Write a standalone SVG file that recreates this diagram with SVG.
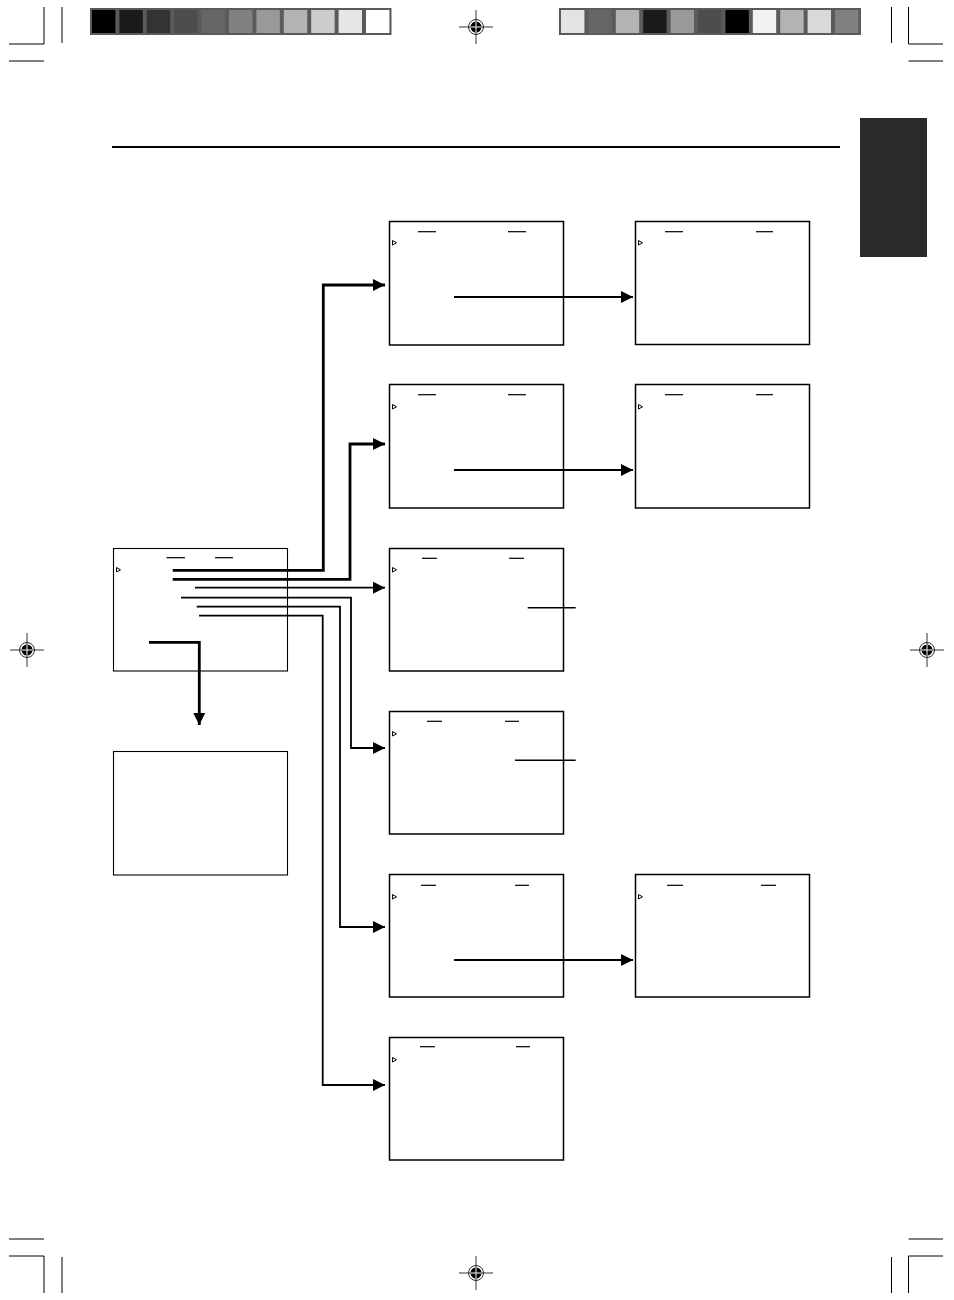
<svg xmlns="http://www.w3.org/2000/svg" width="954" height="1300" viewBox="0 0 954 1300">
<style>
.crop{stroke:#000;stroke-width:1;fill:none}
.scr{fill:#fff;stroke:#000;stroke-width:1.5}
.thin{fill:#fff;stroke:#000;stroke-width:1.1}
.dash{stroke:#000;stroke-width:1.2}
.tri{fill:#fff;stroke:#000;stroke-width:1}
.con{fill:none;stroke:#000;stroke-linejoin:miter}
.w3{stroke-width:2.8}
.w2{stroke-width:1.8}
.lbl{stroke:#000;stroke-width:1.4}
</style>
<defs>
<marker id="ah" markerUnits="userSpaceOnUse" markerWidth="13" markerHeight="13" refX="12" refY="6" orient="auto" viewBox="0 0 13 13">
<path d="M0,0 L12,6 L0,12 z" fill="#000"/>
</marker>
<g id="reg">
<line x1="-17" y1="0" x2="17" y2="0" stroke="#000" stroke-width="0.8"/>
<line x1="0" y1="-17" x2="0" y2="17" stroke="#000" stroke-width="0.8"/>
<circle r="7.5" fill="none" stroke="#000" stroke-width="0.8"/>
<circle r="5.5" fill="#000"/>
<line x1="-5.5" y1="0" x2="5.5" y2="0" stroke="#fff" stroke-width="1"/>
<line x1="0" y1="-5.5" x2="0" y2="5.5" stroke="#fff" stroke-width="1"/>
</g>
</defs>
<rect width="954" height="1300" fill="#fff"/>

<g id="print-marks">
<path class="crop" d="M44,7 V44 H9 M62,7 V43 M9,61 H44"/>
<path class="crop" d="M891.5,7 V43 M908.5,7 V44 H943 M908.5,61 H943"/>
<path class="crop" d="M44,1293 V1256 H9 M62,1293 V1257 M9,1239 H44"/>
<path class="crop" d="M891.5,1293 V1257 M908.5,1293 V1256 H943 M908.5,1239 H943"/>
<use href="#reg" x="476" y="27"/>
<use href="#reg" x="27" y="650"/>
<use href="#reg" x="927" y="650"/>
<use href="#reg" x="476" y="1273"/>
</g>

<g id="colorbar-left">
<rect x="90" y="8" width="301.5" height="27" fill="#5a5a5a"/>
<rect x="92" y="10" width="23.4" height="23" fill="#000"/>
<rect x="119.4" y="10" width="23.4" height="23" fill="#1a1a1a"/>
<rect x="146.8" y="10" width="23.4" height="23" fill="#333"/>
<rect x="174.2" y="10" width="23.4" height="23" fill="#4d4d4d"/>
<rect x="201.6" y="10" width="23.4" height="23" fill="#666"/>
<rect x="229" y="10" width="23.4" height="23" fill="#808080"/>
<rect x="256.4" y="10" width="23.4" height="23" fill="#999"/>
<rect x="283.8" y="10" width="23.4" height="23" fill="#b3b3b3"/>
<rect x="311.2" y="10" width="23.4" height="23" fill="#ccc"/>
<rect x="338.6" y="10" width="23.4" height="23" fill="#e6e6e6"/>
<rect x="366" y="10" width="23.4" height="23" fill="#fff"/>
</g>

<g id="colorbar-right">
<rect x="559" y="8" width="302" height="27" fill="#5a5a5a"/>
<rect x="561" y="10" width="23.4" height="23" fill="#e3e3e3"/>
<rect x="588.4" y="10" width="23.4" height="23" fill="#666"/>
<rect x="615.8" y="10" width="23.4" height="23" fill="#b3b3b3"/>
<rect x="643.2" y="10" width="23.4" height="23" fill="#1a1a1a"/>
<rect x="670.6" y="10" width="23.4" height="23" fill="#999"/>
<rect x="698" y="10" width="23.4" height="23" fill="#4d4d4d"/>
<rect x="725.4" y="10" width="23.4" height="23" fill="#000"/>
<rect x="752.8" y="10" width="23.4" height="23" fill="#f2f2f2"/>
<rect x="780.2" y="10" width="23.4" height="23" fill="#b3b3b3"/>
<rect x="807.6" y="10" width="23.4" height="23" fill="#d9d9d9"/>
<rect x="835" y="10" width="23.4" height="23" fill="#808080"/>
</g>

<g id="header">
<line x1="112" y1="147" x2="840" y2="147" stroke="#000" stroke-width="2"/>
<rect x="860" y="118" width="67" height="139" fill="#2a2a2a"/>
</g>

<g id="main-menu">
<rect class="thin" x="113.5" y="548.5" width="174" height="122.5"/>
<line class="dash" x1="166.5" y1="557.7" x2="185" y2="557.7"/>
<line class="dash" x1="215" y1="557.7" x2="233" y2="557.7"/>
<path class="tri" d="M116.5,567.5 L120.5,569.8 L116.5,572 z"/>
</g>

<g id="sub-screen">
<rect class="thin" x="113.5" y="751.5" width="174" height="123.5"/>
</g>

<g id="screen-a1">
<rect class="scr" x="389.5" y="221.5" width="174" height="123.5"/>
<line class="dash" x1="418" y1="231.7" x2="436" y2="231.7"/>
<line class="dash" x1="508" y1="231.7" x2="526" y2="231.7"/>
<path class="tri" d="M392.5,240.5 L396.5,242.8 L392.5,245 z"/>
</g>
<g id="screen-a2">
<rect class="scr" x="389.5" y="384.5" width="174" height="123.5"/>
<line class="dash" x1="418" y1="394.7" x2="436" y2="394.7"/>
<line class="dash" x1="508" y1="394.7" x2="526" y2="394.7"/>
<path class="tri" d="M392.5,404.5 L396.5,406.8 L392.5,409 z"/>
</g>
<g id="screen-a3">
<rect class="scr" x="389.5" y="548.5" width="174" height="122.5"/>
<line class="dash" x1="422" y1="558.3" x2="437" y2="558.3"/>
<line class="dash" x1="509" y1="558.3" x2="524" y2="558.3"/>
<path class="tri" d="M392.5,567.5 L396.5,569.8 L392.5,572 z"/>
</g>
<g id="screen-a4">
<rect class="scr" x="389.5" y="711.5" width="174" height="122.5"/>
<line class="dash" x1="427" y1="721.3" x2="442" y2="721.3"/>
<line class="dash" x1="505" y1="721.3" x2="519" y2="721.3"/>
<path class="tri" d="M392.5,731.5 L396.5,733.8 L392.5,736 z"/>
</g>
<g id="screen-a5">
<rect class="scr" x="389.5" y="874.5" width="174" height="122.5"/>
<line class="dash" x1="421" y1="885.3" x2="436" y2="885.3"/>
<line class="dash" x1="515" y1="885.3" x2="529" y2="885.3"/>
<path class="tri" d="M392.5,894.5 L396.5,896.8 L392.5,899 z"/>
</g>
<g id="screen-a6">
<rect class="scr" x="389.5" y="1037.5" width="174" height="122.5"/>
<line class="dash" x1="420" y1="1046.7" x2="435" y2="1046.7"/>
<line class="dash" x1="516" y1="1046.7" x2="530" y2="1046.7"/>
<path class="tri" d="M392.5,1057.5 L396.5,1059.8 L392.5,1062 z"/>
</g>
<g id="screen-b1">
<rect class="scr" x="635.5" y="221.5" width="174" height="123"/>
<line class="dash" x1="665" y1="231.7" x2="683" y2="231.7"/>
<line class="dash" x1="756" y1="231.7" x2="773" y2="231.7"/>
<path class="tri" d="M638.5,240.5 L642.5,242.8 L638.5,245 z"/>
</g>
<g id="screen-b2">
<rect class="scr" x="635.5" y="384.5" width="174" height="123.5"/>
<line class="dash" x1="665" y1="394.7" x2="683" y2="394.7"/>
<line class="dash" x1="756" y1="394.7" x2="773" y2="394.7"/>
<path class="tri" d="M638.5,404.5 L642.5,406.8 L638.5,409 z"/>
</g>
<g id="screen-b5">
<rect class="scr" x="635.5" y="874.5" width="174" height="122.5"/>
<line class="dash" x1="667" y1="885.3" x2="683" y2="885.3"/>
<line class="dash" x1="761" y1="885.3" x2="776" y2="885.3"/>
<path class="tri" d="M638.5,894.5 L642.5,896.8 L638.5,899 z"/>
</g>

<g id="connectors">
<path class="con w3" d="M172.7,570.3 H323.3 V285 H385" marker-end="url(#ah)"/>
<path class="con w3" d="M172.7,579.3 H350 V444 H385" marker-end="url(#ah)"/>
<path class="con w2" d="M195,587.7 H385" marker-end="url(#ah)"/>
<path class="con w2" d="M181,597.7 H351 V748 H385" marker-end="url(#ah)"/>
<path class="con w2" d="M196.7,606.7 H340 V927 H385" marker-end="url(#ah)"/>
<path class="con w2" d="M199,615.7 H322.7 V1085 H385" marker-end="url(#ah)"/>
<path class="con w3" d="M149,642.3 H199.3 V725" marker-end="url(#ah)"/>
<path class="con w2" d="M454,297 H633" marker-end="url(#ah)"/>
<path class="con w2" d="M454,470 H633" marker-end="url(#ah)"/>
<path class="con w2" d="M454,960 H633" marker-end="url(#ah)"/>
<line class="lbl" x1="527.7" y1="607.7" x2="575.7" y2="607.7"/>
<line class="lbl" x1="515" y1="760.3" x2="575.7" y2="760.3"/>
</g>
</svg>
